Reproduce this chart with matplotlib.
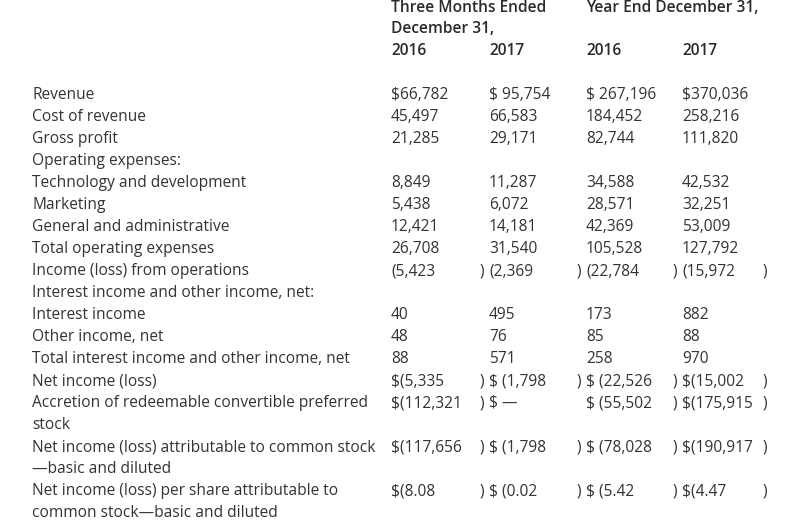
import matplotlib
matplotlib.use('Agg')
import matplotlib.pyplot as plt

plt.rcParams['font.family'] = ['Open Sans', 'DejaVu Sans']

# header
header_top = ['Three Months Ended', 'Year End December 31,']
header_mid = ['December 31,']
years = ['2016', '2017', '2016', '2017']

# row labels (\n marks a wrapped second line)
labels = [
    'Revenue', 'Cost of revenue', 'Gross profit', 'Operating expenses:',
    'Technology and development', 'Marketing', 'General and administrative',
    'Total operating expenses', 'Income (loss) from operations',
    'Interest income and other income, net:', 'Interest income',
    'Other income, net', 'Total interest income and other income, net',
    'Net income (loss)',
    'Accretion of redeemable convertible preferred\nstock',
    'Net income (loss) attributable to common stock\n\u2014basic and diluted',
    'Net income (loss) per share attributable to\ncommon stock\u2014basic and diluted',
]

# values per column: three months 2016, 2017, year 2016, 2017 (None = blank)
q2016 = [66782, 45497, 21285, None, 8849, 5438, 12421, 26708, -5423, None,
         40, 48, 88, -5335, -112321, -117656, -8.08]
q2017 = [95754, 66583, 29171, None, 11287, 6072, 14181, 31540, -2369, None,
         495, 76, 571, -1798, 0, -1798, -0.02]
y2016 = [267196, 184452, 82744, None, 34588, 28571, 42369, 105528, -22784, None,
         173, 85, 258, -22526, -55502, -78028, -5.42]
y2017 = [370036, 258216, 111820, None, 42532, 32251, 53009, 127792, -15972, None,
         882, 88, 970, -15002, -175915, -190917, -4.47]

# rows carrying a dollar sign
dollar_rows = [0, 13, 14, 15, 16]

columns = [q2016, q2017, y2016, y2017]
col_x = [391, 489, 586, 682]
close_x = [480, 577, 673, 763]
dollar_sep = ['', ' ', ' ', '']

color = '#333333'
fs = 11.2
base = 6  # baseline offset below the row centre, px

fig = plt.figure(figsize=(7.91, 5.23), dpi=100)
ax = fig.add_axes([0, 0, 1, 1])
ax.set_xlim(0, 791)
ax.set_ylim(523, 0)
ax.axis('off')

# headers
hd = dict(fontsize=fs, fontweight='semibold', color='#2a2a2a', va='baseline')
ax.text(col_x[0], 6 + base, header_top[0], **hd)
ax.text(col_x[2], 6 + base, header_top[1], **hd)
ax.text(col_x[0], 27 + base, header_mid[0], **hd)
for x, yr in zip(col_x, years):
    ax.text(x, 49 + base, yr, **hd)


def fmt(v):
    if isinstance(v, float):
        return f'{abs(v):.2f}'
    return f'{abs(v):,}'


kw = dict(fontsize=fs, color=color, va='baseline')
y = 93
step = 22
for i, lab in enumerate(labels):
    lines = lab.split('\n')
    for k, line in enumerate(lines):
        ax.text(32, y + k * step + base, line, **kw)
    for c, col in enumerate(columns):
        v = col[i]
        if v is None:
            continue
        if v == 0:
            s = '\u2014'
        elif v < 0:
            s = '(' + fmt(v)
            ax.text(close_x[c], y + base, ')', **kw)
        else:
            s = fmt(v)
        if i in dollar_rows:
            s = '$' + dollar_sep[c] + s
        ax.text(col_x[c], y + base, s, **kw)
    y += step * len(lines)

fig.savefig('out.png', dpi=100)
